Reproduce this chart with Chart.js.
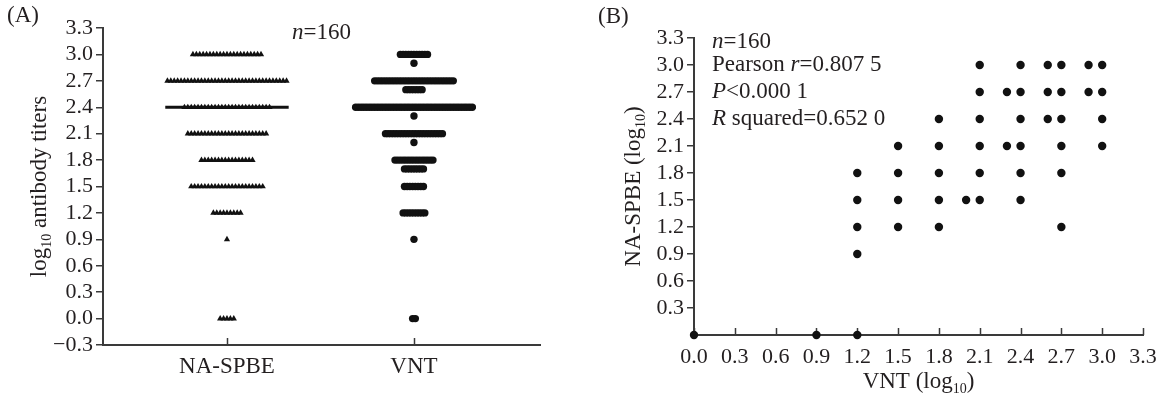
<!DOCTYPE html>
<html>
<head>
<meta charset="utf-8"/>
<style>
  html,body{margin:0;padding:0;background:#fff;}
  #wrap{position:relative;width:1163px;height:401px;}
  #a{position:absolute;left:0;top:0;}
  #b{position:absolute;left:590px;top:0;}
</style>
</head>
<body>
<div id="wrap">
  <canvas id="a" width="580" height="401"></canvas>
  <canvas id="b" width="573" height="401"></canvas>
</div>
<script src="https://cdn.jsdelivr.net/npm/chart.js@4.4.0/dist/chart.umd.min.js"></script>
<script>
// panel A: how many sera sit at each titre level
const groups    = ["NA-SPBE", "VNT"];
const levels    = [3.0, 2.9, 2.7, 2.6, 2.4, 2.3, 2.1, 2.0, 1.8, 1.7, 1.5, 1.2, 0.9, 0.0];
const naCounts  = [21,  0,  36,  0,  26,  0,  24,  0,  16,  0,  22,  9,  1,  5];
const vntCounts = [11,  1,  30,  7,  44,  1,  22,  1,  15,  8,   8,  9,  1,  2];
const medians   = [2.4, 2.4];
const yTicksA   = [-0.3, 0, 0.3, 0.6, 0.9, 1.2, 1.5, 1.8, 2.1, 2.4, 2.7, 3.0, 3.3];

// panel B: VNT vs NA-SPBE pairs
const vntB = [2.1, 2.4, 2.6, 2.7, 2.9, 3.0,
              2.1, 2.3, 2.4, 2.6, 2.7, 2.9, 3.0,
              1.8, 2.1, 2.4, 2.6, 2.7, 3.0,
              1.5, 1.8, 2.1, 2.3, 2.4, 2.7, 3.0,
              1.2, 1.5, 1.8, 2.1, 2.4, 2.7,
              1.2, 1.5, 1.8, 2.0, 2.1, 2.4,
              1.2, 1.5, 1.8, 2.7,
              1.2,
              0.0, 0.9, 1.2];
const naB  = [3.0, 3.0, 3.0, 3.0, 3.0, 3.0,
              2.7, 2.7, 2.7, 2.7, 2.7, 2.7, 2.7,
              2.4, 2.4, 2.4, 2.4, 2.4, 2.4,
              2.1, 2.1, 2.1, 2.1, 2.1, 2.1, 2.1,
              1.8, 1.8, 1.8, 1.8, 1.8, 1.8,
              1.5, 1.5, 1.5, 1.5, 1.5, 1.5,
              1.2, 1.2, 1.2, 1.2,
              0.9,
              0.0, 0.0, 0.0];
const xTicksB = [0, 0.3, 0.6, 0.9, 1.2, 1.5, 1.8, 2.1, 2.4, 2.7, 3.0, 3.3];
const yTicksB = [0.3, 0.6, 0.9, 1.2, 1.5, 1.8, 2.1, 2.4, 2.7, 3.0, 3.3];
const statsB = [
  [{t:"n", i:true}, {t:"=160"}],
  [{t:"Pearson "}, {t:"r", i:true}, {t:"=0.807 5"}],
  [{t:"P", i:true}, {t:"<0.000 1"}],
  [{t:"R", i:true}, {t:" squared=0.652 0"}],
];

const INK = "#231f20", AXIS = "#3a3a3a", FONT = '"Liberation Serif", "Times New Roman", serif';
Chart.defaults.font.family = FONT;
Chart.defaults.color = INK;

function richText(ctx, parts, x, y, size, align, rotate) {
  ctx.save();
  ctx.translate(x, y);
  if (rotate) ctx.rotate(rotate);
  const fontOf = p => (p.i ? "italic " : "") + (p.sub ? Math.round(size * 0.62) : size) + "px " + FONT;
  let w = 0;
  parts.forEach(p => { ctx.font = fontOf(p); w += ctx.measureText(p.t).width; });
  let cx = align === "left" ? 0 : -w / 2;
  ctx.textAlign = "left"; ctx.textBaseline = "middle"; ctx.fillStyle = INK;
  parts.forEach(p => {
    ctx.font = fontOf(p);
    ctx.fillText(p.t, cx, p.sub ? size * 0.3 : 0);
    cx += ctx.measureText(p.t).width;
  });
  ctx.restore();
}

// x ticks in both panels point up into the plot
const innerTicks = {
  id: "innerTicks",
  beforeDatasetsDraw(chart) {
    const sx = chart.scales.x, ctx = chart.ctx;
    ctx.save(); ctx.strokeStyle = AXIS; ctx.lineWidth = 1.5;
    sx.ticks.forEach(t => {
      const px = Math.round(sx.getPixelForValue(t.value)) + 0.5;
      ctx.beginPath(); ctx.moveTo(px, sx.top); ctx.lineTo(px, sx.top - 7); ctx.stroke();
    });
    ctx.restore();
  }
};

function swarm(cat, counts, step) {
  const pts = [];
  levels.forEach((lv, k) => {
    const c = counts[k];
    for (let i = 0; i < c; i++) pts.push({ x: cat + (i - (c - 1) / 2) * step, y: lv });
  });
  return pts;
}

const fmt = v => (v < 0 ? "\u2212" : "") + Math.abs(v).toFixed(1);

// ---- panel A
new Chart(document.getElementById("a"), {
  type: "scatter",
  data: {
    datasets: [
      ...medians.map((m, i) => ({
        type: "line", data: [{x: i + 1 - 0.33, y: m}, {x: i + 1 + 0.33, y: m}],
        borderColor: "#111", borderWidth: 3, pointRadius: 0, clip: false
      })),
      { data: swarm(1, naCounts, 0.0182), pointStyle: "triangle", pointRadius: 3.6,
        backgroundColor: "#111", borderColor: "#111", borderWidth: 0, clip: false },
      { data: swarm(2, vntCounts, 0.0145), pointStyle: "circle", pointRadius: 3.7,
        backgroundColor: "#111", borderColor: "#111", borderWidth: 0, clip: false },
    ]
  },
  options: {
    responsive: false, animation: false, events: [],
    layout: { padding: { top: 28, right: 40, left: 0, bottom: 0 } },
    plugins: { legend: { display: false }, tooltip: { enabled: false } },
    scales: {
      x: {
        type: "linear", min: 0.337, max: 2.674,
        afterBuildTicks: s => { s.ticks = groups.map((g, i) => ({ value: i + 1 })); },
        afterFit: s => { s.height = 56; },
        ticks: { callback: v => groups[v - 1], font: { size: 23 }, padding: 0, maxRotation: 0, autoSkip: false },
        grid: { display: false },
        border: { color: AXIS, width: 2 }
      },
      y: {
        min: -0.3, max: 3.3,
        afterBuildTicks: s => { s.ticks = yTicksA.map(v => ({ value: v })); },
        afterFit: s => { s.width = 103; },
        ticks: { callback: fmt, font: { size: 22 }, padding: 3, autoSkip: false },
        grid: { drawOnChartArea: false, tickLength: 7, tickColor: AXIS, lineWidth: 1.5 },
        border: { color: AXIS, width: 2 }
      }
    }
  },
  plugins: [innerTicks, {
    id: "labelsA",
    afterDraw(chart) {
      const ctx = chart.ctx, a = chart.chartArea;
      richText(ctx, [{t:"(A)"}], 7, 16, 23, "left");
      richText(ctx, [{t:"n", i:true}, {t:"=160"}], (a.left + a.right) / 2, 33, 23);
      richText(ctx, [{t:"log"}, {t:"10", sub:true}, {t:" antibody titers"}], 40, (a.top + a.bottom) / 2, 23, "center", -Math.PI / 2);
    }
  }]
});

// ---- panel B
new Chart(document.getElementById("b"), {
  type: "scatter",
  data: {
    datasets: [{
      data: vntB.map((v, i) => ({ x: v, y: naB[i] })),
      pointStyle: "circle", pointRadius: 4.2,
      backgroundColor: "#111", borderColor: "#111", borderWidth: 0, clip: false
    }]
  },
  options: {
    responsive: false, animation: false, events: [],
    layout: { padding: { top: 38, right: 20, left: 0, bottom: 0 } },
    plugins: { legend: { display: false }, tooltip: { enabled: false } },
    scales: {
      x: {
        type: "linear", min: 0, max: 3.3,
        afterBuildTicks: s => { s.ticks = xTicksB.map(v => ({ value: v })); },
        afterFit: s => { s.height = 66; },
        ticks: { callback: fmt, font: { size: 22 }, padding: 1, maxRotation: 0, autoSkip: false },
        grid: { display: false },
        border: { color: AXIS, width: 2 }
      },
      y: {
        min: 0, max: 3.3,
        afterBuildTicks: s => { s.ticks = yTicksB.map(v => ({ value: v })); },
        afterFit: s => { s.width = 104; },
        ticks: { callback: fmt, font: { size: 22 }, padding: 3, autoSkip: false },
        grid: { drawOnChartArea: false, tickLength: 7, tickColor: AXIS, lineWidth: 1.5 },
        border: { color: AXIS, width: 2 }
      }
    }
  },
  plugins: [innerTicks, {
    id: "labelsB",
    afterDraw(chart) {
      const ctx = chart.ctx, a = chart.chartArea, sy = chart.scales.y;
      richText(ctx, [{t:"(B)"}], 8, 17, 23, "left");
      [3.3, 3.0, 2.7, 2.4].forEach((lv, i) => {
        richText(ctx, statsB[i], a.left + 18, sy.getPixelForValue(lv) + (i === 0 ? 4 : 0), 23, "left");
      });
      richText(ctx, [{t:"VNT (log"}, {t:"10", sub:true}, {t:")"}], (a.left + a.right) / 2, 382, 23);
      richText(ctx, [{t:"NA-SPBE (log"}, {t:"10", sub:true}, {t:")"}], 44, (a.top + a.bottom) / 2, 23, "center", -Math.PI / 2);
    }
  }]
});
</script>
</body>
</html>
